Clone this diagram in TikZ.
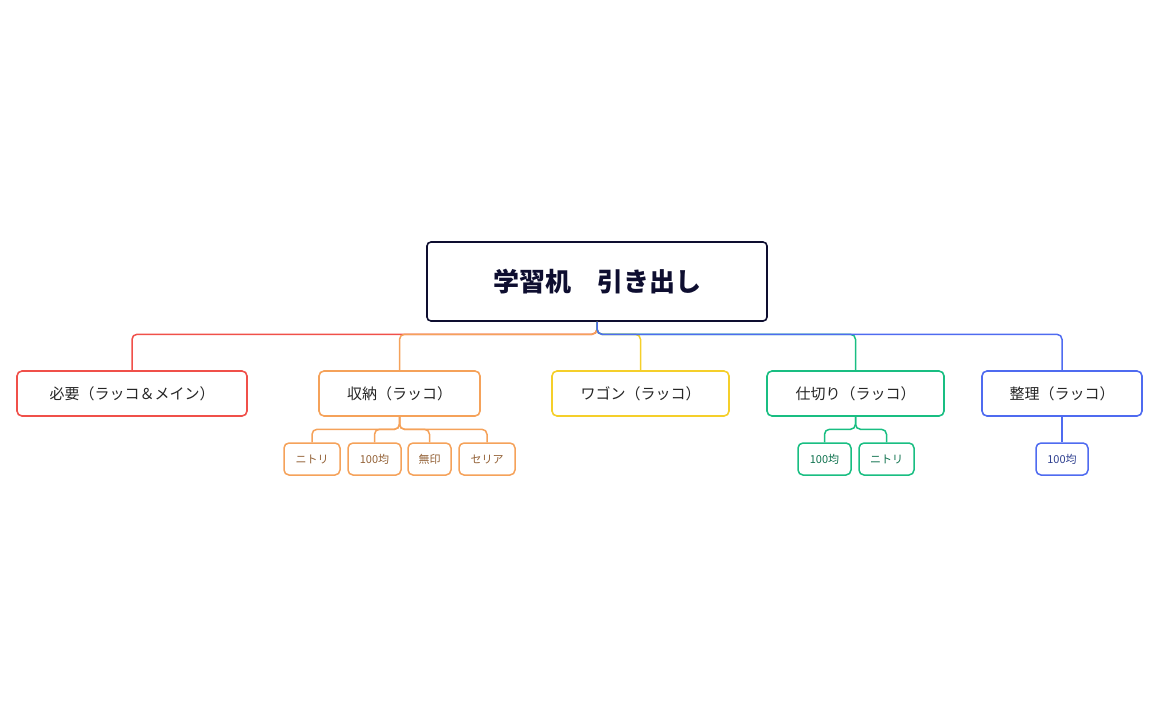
\documentclass[tikz,border=0pt]{standalone}
\usepackage{fontspec}
\setmainfont{Noto Sans CJK JP}
\definecolor{cR}{HTML}{F0504A}
\definecolor{cO}{HTML}{F5A25A}
\definecolor{cY}{HTML}{F5CF2A}
\definecolor{cG}{HTML}{19BE82}
\definecolor{cB}{HTML}{4F6BF0}
\definecolor{cK}{HTML}{0E0E30}
\begin{document}
\begin{tikzpicture}[x=1pt,y=-1pt,
  rootbox/.style={draw=cK,line width=1.6pt,rounded corners=4pt,fill=white,minimum width=340pt,minimum height=79pt,font=\fontsize{26}{30}\selectfont\bfseries,text=cK},
  mainbox/.style={draw=#1,line width=1.6pt,rounded corners=5pt,fill=white,minimum height=45pt,font=\fontsize{15}{18}\selectfont,text=black!85},
  subbox/.style={draw=#1,line width=1.5pt,rounded corners=5pt,fill=white,minimum height=32pt,inner xsep=2pt,font=\fontsize{11}{13}\selectfont,text=#1!60!black},
  link/.style={draw=#1,line width=1.5pt,rounded corners=5pt}]
\useasboundingbox (0,0) rectangle (1158,717);
\node[rootbox] (root) at (597,281.5) {学習机　引き出し};
\node[mainbox=cR,minimum width=230pt] (r) at (132,393.5) {必要（ラッコ＆メイン）};
\node[mainbox=cO,minimum width=161pt] (o) at (399.5,393.5) {収納（ラッコ）};
\node[mainbox=cY,minimum width=177pt] (y) at (640.5,393.5) {ワゴン（ラッコ）};
\node[mainbox=cG,minimum width=177pt] (g) at (855.5,393.5) {仕切り（ラッコ）};
\node[mainbox=cB,minimum width=160pt] (b) at (1062,393.5) {整理（ラッコ）};
\node[subbox=cO,minimum width=56pt] (o1) at (312,459) {ニトリ};
\node[subbox=cO,minimum width=53pt] (o2) at (374.5,459) {100均};
\node[subbox=cO,minimum width=43pt] (o3) at (429.5,459) {無印};
\node[subbox=cO,minimum width=56pt] (o4) at (487,459) {セリア};
\node[subbox=cG,minimum width=53pt] (g1) at (824.5,459) {100均};
\node[subbox=cG,minimum width=55pt] (g2) at (886.5,459) {ニトリ};
\node[subbox=cB,minimum width=52pt] (b1) at (1062,459) {100均};
\begin{scope}[on background layer/.style={}]
\end{scope}
\foreach \c/\n in {cR/r,cO/o,cY/y,cG/g,cB/b}
  \draw[link=\c] (root.south) -- ++(0,12.5) -| (\n.north);
\foreach \n in {o1,o2,o3,o4} \draw[link=cO] (o.south) -- ++(0,12.5) -| (\n.north);
\foreach \n in {g1,g2} \draw[link=cG] (g.south) -- ++(0,12.5) -| (\n.north);
\draw[link=cB] (b.south) -- (b1.north);
\end{tikzpicture}
\end{document}
